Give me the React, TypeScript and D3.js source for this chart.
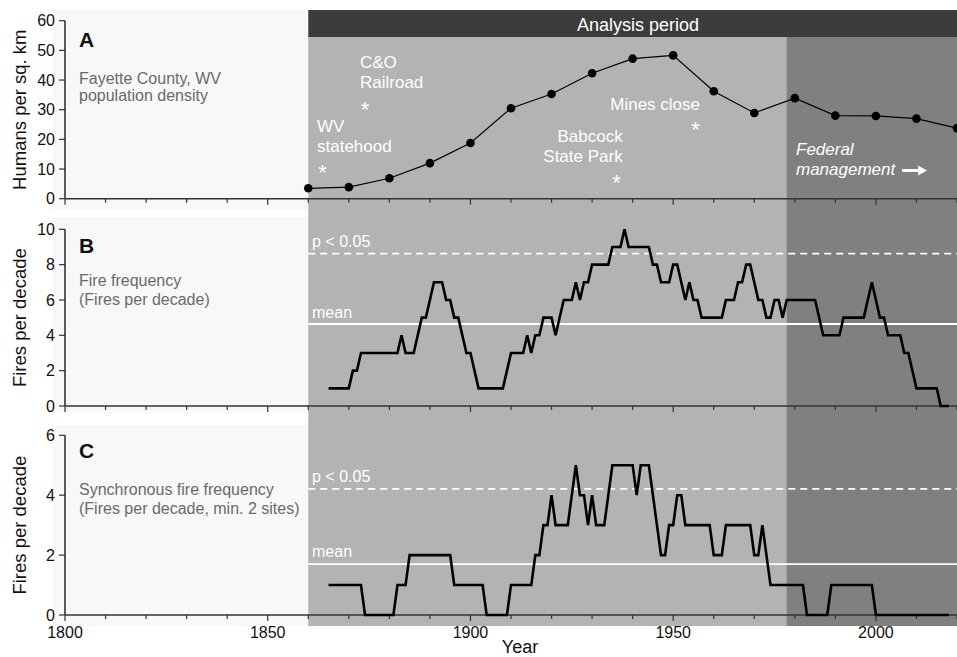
import * as d3 from 'd3';

// Panel A: population density (Fayette County, WV)
const popYears = [1860, 1870, 1880, 1890, 1900, 1910, 1920, 1930, 1940, 1950, 1960, 1970, 1980, 1990, 2000, 2010, 2020];
const popDensity = [3.5, 3.9, 6.9, 12, 18.8, 30.5, 35.3, 42.3, 47.2, 48.3, 36.2, 28.9, 33.9, 28, 27.9, 27, 23.8];

// Panel B: fire frequency (fires per decade), breakpoints
const fireYears = [1865, 1870, 1871, 1872, 1873, 1882, 1883, 1884, 1886, 1888, 1889, 1891, 1893, 1894, 1895, 1896, 1897, 1899, 1900, 1902, 1908, 1910, 1913, 1914, 1915, 1916, 1917, 1918, 1920, 1921, 1923, 1925, 1926, 1927, 1928, 1929, 1930, 1934, 1935, 1937, 1938, 1939, 1944, 1945, 1946, 1947, 1949, 1950, 1951, 1953, 1954, 1955, 1956, 1957, 1962, 1963, 1965, 1966, 1967, 1968, 1969, 1971, 1972, 1973, 1974, 1975, 1976, 1977, 1978, 1985, 1987, 1991, 1992, 1997, 1999, 2001, 2002, 2003, 2006, 2007, 2008, 2010, 2015, 2016, 2018];
const fireValues = [1, 1, 2, 2, 3, 3, 4, 3, 3, 5, 5, 7, 7, 6, 6, 5, 5, 3, 3, 1, 1, 3, 3, 4, 3, 4, 4, 5, 5, 4, 6, 6, 7, 6, 7, 7, 8, 8, 9, 9, 10, 9, 9, 8, 8, 7, 7, 8, 8, 6, 7, 6, 6, 5, 5, 6, 6, 7, 7, 8, 8, 6, 6, 5, 5, 6, 6, 5, 6, 6, 4, 4, 5, 5, 7, 5, 5, 4, 4, 3, 3, 1, 1, 0, 0];

// Panel C: synchronous fire frequency (min. 2 sites)
const syncYears = [1865, 1873, 1874, 1881, 1882, 1884, 1885, 1895, 1896, 1903, 1904, 1909, 1910, 1915, 1916, 1917, 1918, 1919, 1920, 1921, 1924, 1926, 1927, 1928, 1929, 1930, 1931, 1933, 1935, 1940, 1941, 1942, 1944, 1947, 1948, 1949, 1950, 1951, 1952, 1953, 1959, 1960, 1962, 1963, 1969, 1970, 1971, 1972, 1974, 1982, 1983, 1988, 1989, 1999, 2000, 2018];
const syncValues = [1, 1, 0, 0, 1, 1, 2, 2, 1, 1, 0, 0, 1, 1, 2, 2, 3, 3, 4, 3, 3, 5, 4, 4, 3, 4, 3, 3, 5, 5, 4, 5, 5, 2, 2, 3, 3, 4, 4, 3, 3, 2, 2, 3, 3, 2, 2, 3, 1, 1, 0, 0, 1, 1, 0, 0];

// thresholds
const fireMean = 4.64;
const fireSig = 8.62;
const syncMean = 1.7;
const syncSig = 4.21;

const analysisStart = 1860;
const federalStart = 1978;
const xTicksMajor = [1800, 1850, 1900, 1950, 2000];

const FONT = 'Arial, "Liberation Sans", Helvetica, sans-serif';

const x = d3.scaleLinear().domain([1800, 2020]).range([65, 957]);

const panels = [
  { key: 'A', y: d3.scaleLinear().domain([0, 60]).range([198.7, 20.7]), ticks: d3.range(0, 61, 10), bgTop: 10, bgBottom: 210, title: 'Humans per sq. km' },
  { key: 'B', y: d3.scaleLinear().domain([0, 10]).range([406, 229.3]), ticks: d3.range(0, 11, 2), bgTop: 217, bgBottom: 413, title: 'Fires per decade' },
  { key: 'C', y: d3.scaleLinear().domain([0, 6]).range([615, 435.3]), ticks: d3.range(0, 7, 2), bgTop: 425, bgBottom: 626, title: 'Fires per decade' },
];

function Axes({ p, showLabels }: { p: (typeof panels)[number]; showLabels: boolean }) {
  const y0 = p.y(0);
  const yTop = p.y(p.y.domain()[1]);
  const minor = d3.range(1800, 2021, 10);
  const midY = (y0 + yTop) / 2;
  return (
    <g>
      <line x1={x(1800)} x2={957} y1={y0} y2={y0} stroke="#333" strokeWidth={1.6} />
      {minor.map((t) => (
        <line key={t} x1={x(t)} x2={x(t)} y1={y0} y2={y0 + (t % 50 === 0 ? 6 : 4)} stroke="#333" strokeWidth={1.2} />
      ))}
      <line x1={x(1800)} x2={x(1800)} y1={yTop} y2={y0} stroke="#333" strokeWidth={1.6} />
      {p.ticks.map((t) => (
        <g key={t}>
          <line x1={x(1800) - 6} x2={x(1800)} y1={p.y(t)} y2={p.y(t)} stroke="#333" strokeWidth={1.2} />
          <text x={55} y={p.y(t)} dy="0.36em" textAnchor="end" fontSize={16} fill="#111">
            {t}
          </text>
        </g>
      ))}
      <text
        transform={`translate(26,${midY}) rotate(-90)`}
        textAnchor="middle"
        fontSize={18.5}
        fill="#111"
      >
        {p.title}
      </text>
      {showLabels &&
        xTicksMajor.map((t) => (
          <text key={t} x={x(t)} y={637.5} textAnchor="middle" fontSize={16} fill="#111">
            {t}
          </text>
        ))}
    </g>
  );
}

export default function App() {
  const [pA, pB, pC] = panels;
  const xa = x(analysisStart);
  const xf = x(federalStart);

  const popLine = d3
    .line<number>()
    .x((_, i) => x(popYears[i]))
    .y((d) => pA.y(d));
  const fireLine = d3
    .line<number>()
    .x((_, i) => x(fireYears[i]))
    .y((d) => pB.y(d));
  const syncLine = d3
    .line<number>()
    .x((_, i) => x(syncYears[i]))
    .y((d) => pC.y(d));

  const white = '#ffffff';
  const descColor = '#6a6a6a';

  return (
    <div style={{ position: 'absolute', left: 0, top: 0 }}>
      <svg width={957} height={657} fontFamily={FONT} style={{ display: 'block', background: '#fff' }}>
        {/* panel backgrounds */}
        {panels.map((p) => (
          <rect key={p.key} x={53} y={p.bgTop} width={xa - 53} height={p.bgBottom - p.bgTop} fill="#f8f8f8" />
        ))}
        <rect x={xa} y={37} width={957 - xa} height={626 - 37} fill="#b3b3b3" />
        <rect x={xf} y={37} width={957 - xf} height={626 - 37} fill="#808080" />
        <rect x={xa} y={10} width={957 - xa} height={27} fill="#3c3c3c" />
        <text x={638} y={30.5} textAnchor="middle" fontSize={18} fill={white}>
          Analysis period
        </text>

        {/* threshold lines */}
        <line x1={xa} x2={957} y1={pB.y(fireSig)} y2={pB.y(fireSig)} stroke={white} strokeWidth={1.8} strokeDasharray="7,5" />
        <line x1={xa} x2={957} y1={pB.y(fireMean)} y2={pB.y(fireMean)} stroke={white} strokeWidth={1.8} />
        <line x1={xa} x2={957} y1={pC.y(syncSig)} y2={pC.y(syncSig)} stroke={white} strokeWidth={1.8} strokeDasharray="7,5" />
        <line x1={xa} x2={957} y1={pC.y(syncMean)} y2={pC.y(syncMean)} stroke={white} strokeWidth={1.8} />
        <text x={312} y={247} fontSize={16} fill={white}>p &lt; 0.05</text>
        <text x={312} y={318} fontSize={16} fill={white}>mean</text>
        <text x={312} y={482} fontSize={16} fill={white}>p &lt; 0.05</text>
        <text x={312} y={557} fontSize={16} fill={white}>mean</text>

        {/* axes */}
        <Axes p={pA} showLabels={false} />
        <Axes p={pB} showLabels={false} />
        <Axes p={pC} showLabels={true} />
        <text x={520} y={653} textAnchor="middle" fontSize={18} fill="#111">
          Year
        </text>

        {/* panel A annotations */}
        <text x={79} y={46.5} fontSize={21} fontWeight="bold" fill="#111">A</text>
        <text x={79} y={84} fontSize={16} fill={descColor}>Fayette County, WV</text>
        <text x={79} y={101} fontSize={16} fill={descColor}>population density</text>

        <text x={360} y={68} fontSize={17} fill={white}>C&amp;O</text>
        <text x={360} y={87.5} fontSize={17} fill={white}>Railroad</text>
        <text x={x(1874)} y={117} textAnchor="middle" fontSize={22} fill={white}>*</text>
        <text x={317} y={132} fontSize={17} fill={white}>WV</text>
        <text x={317} y={152} fontSize={17} fill={white}>statehood</text>
        <text x={x(1863.5)} y={180} textAnchor="middle" fontSize={22} fill={white}>*</text>
        <text x={700} y={110} textAnchor="end" fontSize={17} fill={white}>Mines close</text>
        <text x={x(1955.5)} y={137} textAnchor="middle" fontSize={22} fill={white}>*</text>
        <text x={622.7} y={142} textAnchor="end" fontSize={17} fill={white}>Babcock</text>
        <text x={622.7} y={162} textAnchor="end" fontSize={17} fill={white}>State Park</text>
        <text x={x(1936)} y={190} textAnchor="middle" fontSize={22} fill={white}>*</text>
        <text x={796} y={154.5} fontSize={17} fontStyle="italic" fill={white}>Federal</text>
        <text x={796} y={174.5} fontSize={17} fontStyle="italic" fill={white}>management</text>
        <line x1={902} x2={920} y1={170.5} y2={170.5} stroke={white} strokeWidth={3} />
        <path d="M918,165.5 L927,170.5 L918,175.5 Z" fill={white} />

        <path d={popLine(popDensity) ?? ''} fill="none" stroke="#000" strokeWidth={1.2} />
        {popDensity.map((d, i) => (
          <circle key={i} cx={x(popYears[i])} cy={pA.y(d)} r={4.3} fill="#000" />
        ))}

        {/* panel B */}
        <text x={79} y={252.5} fontSize={21} fontWeight="bold" fill="#111">B</text>
        <text x={79} y={286} fontSize={16} fill={descColor}>Fire frequency</text>
        <text x={79} y={305} fontSize={16} fill={descColor}>(Fires per decade)</text>
        <path d={fireLine(fireValues) ?? ''} fill="none" stroke="#000" strokeWidth={2.6} strokeLinejoin="miter" />

        {/* panel C */}
        <text x={79} y={458} fontSize={21} fontWeight="bold" fill="#111">C</text>
        <text x={79} y={495} fontSize={16} fill={descColor}>Synchronous fire frequency</text>
        <text x={79} y={514} fontSize={16} fill={descColor}>(Fires per decade, min. 2 sites)</text>
        <path d={syncLine(syncValues) ?? ''} fill="none" stroke="#000" strokeWidth={2.6} strokeLinejoin="miter" />
      </svg>
    </div>
  );
}
